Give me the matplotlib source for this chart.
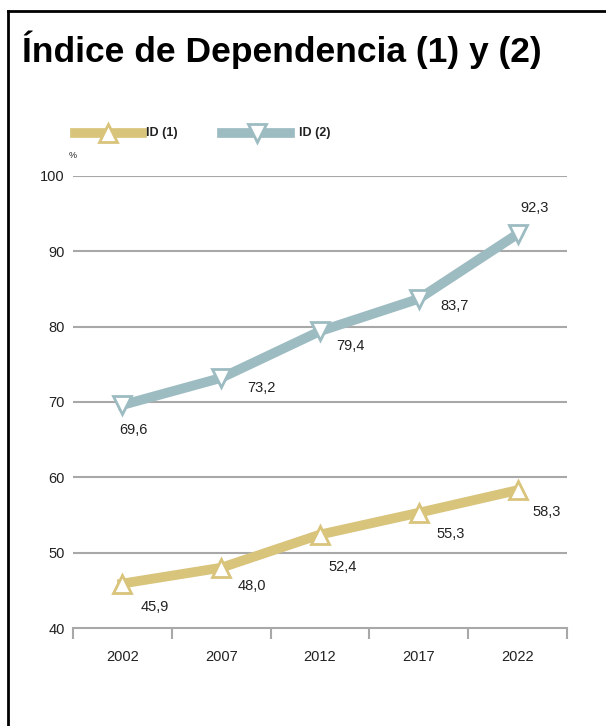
import matplotlib
matplotlib.use("Agg")
import matplotlib.pyplot as plt
from matplotlib.lines import Line2D

plt.rcParams['font.family'] = ['Liberation Sans', 'DejaVu Sans']

years = ["2002", "2007", "2012", "2017", "2022"]
id1 = [45.9, 48.0, 52.4, 55.3, 58.3]
id2 = [69.6, 73.2, 79.4, 83.7, 92.3]
id1_labels = ["45,9", "48,0", "52,4", "55,3", "58,3"]
id2_labels = ["69,6", "73,2", "79,4", "83,7", "92,3"]
yticks = [40, 50, 60, 70, 80, 90, 100]
series_names = ["ID (1)", "ID (2)"]

c1 = "#D9C47C"
c2 = "#9DBCC2"
grid_c = "#A8A8A8"

W, H = 606, 726
fig = plt.figure(figsize=(W/100, H/100), dpi=100)

def fx(px): return px / W
def fy(py): return 1 - py / H

ax = fig.add_axes([fx(73), fy(628), fx(567) - fx(73), fy(176) - fy(628)])
x = list(range(len(years)))
ax.set_xlim(-0.5, len(years) - 0.5)
ax.set_ylim(40, 100)

for v in yticks[1:]:
    ax.axhline(v, color=grid_c, lw=1.5, zorder=1)

ax.plot(x, id2, color=c2, lw=7, marker='v', ms=13, mfc='white', mec=c2, mew=2, zorder=3, solid_joinstyle='miter')
ax.plot(x, id1, color=c1, lw=7, marker='^', ms=13, mfc='white', mec=c1, mew=2, zorder=3, solid_joinstyle='miter')

for s in ['top', 'right', 'left']:
    ax.spines[s].set_visible(False)
ax.spines['bottom'].set_color(grid_c)
ax.spines['bottom'].set_linewidth(1.5)

ax.set_yticks(yticks)
ax.set_yticklabels([str(v) for v in yticks], fontsize=10.5, color='#222222')
ax.tick_params(axis='y', length=0, pad=6)

ax.set_xticks([i - 0.5 for i in range(len(years) + 1)], minor=False)
ax.set_xticklabels([""] * (len(years) + 1))
ax.tick_params(axis='x', which='major', length=8, width=1.5, color=grid_c, direction='out')
ax.set_xticks(x, minor=True)
ax.set_xticklabels(years, minor=True, fontsize=10.5, color='#222222')
ax.tick_params(axis='x', which='minor', length=0, pad=16)

# data labels (offsets in points)
off2 = [(8, -18), (29, -7), (22, -11), (26, -5), (12, 19)]
for i, (v, t) in enumerate(zip(id2, id2_labels)):
    ax.annotate(t, (i, v), xytext=off2[i], textcoords='offset points',
                ha='center', va='center', fontsize=10.5, color='#222222')
off1 = [(23, -17), (22, -13), (16, -23), (23, -15), (21, -16)]
for i, (v, t) in enumerate(zip(id1, id1_labels)):
    ax.annotate(t, (i, v), xytext=off1[i], textcoords='offset points',
                ha='center', va='center', fontsize=10.5, color='#222222')

# percent sign
fig.text(fx(73), fy(156), "%", fontsize=6.5, ha='center', va='center', color='#222222')

# title
fig.text(fx(22), fy(50), "Índice de Dependencia (1) y (2)", fontsize=25.5,
         fontweight='bold', ha='left', va='center', color='black')

# legend
ly = fy(133)
fig.add_artist(Line2D([fx(75), fx(142)], [ly, ly], color=c1, lw=7, transform=fig.transFigure))
fig.add_artist(Line2D([fx(108)], [ly], color=c1, marker='^', ms=13, mfc='white', mec=c1, mew=2, transform=fig.transFigure))
fig.text(fx(146), ly, series_names[0], fontsize=9, fontweight='bold', ha='left', va='center', color='#222222')
fig.add_artist(Line2D([fx(222), fx(290)], [ly, ly], color=c2, lw=7, transform=fig.transFigure))
fig.add_artist(Line2D([fx(257)], [ly], color=c2, marker='v', ms=13, mfc='white', mec=c2, mew=2, transform=fig.transFigure))
fig.text(fx(299), ly, series_names[1], fontsize=9, fontweight='bold', ha='left', va='center', color='#222222')

# frame
fig.add_artist(Line2D([fx(8), fx(8)], [0, fy(11)], color='black', lw=2, transform=fig.transFigure))
fig.add_artist(Line2D([fx(8), 1], [fy(11), fy(11)], color='black', lw=2, transform=fig.transFigure))

fig.savefig("out.png", dpi=100)
